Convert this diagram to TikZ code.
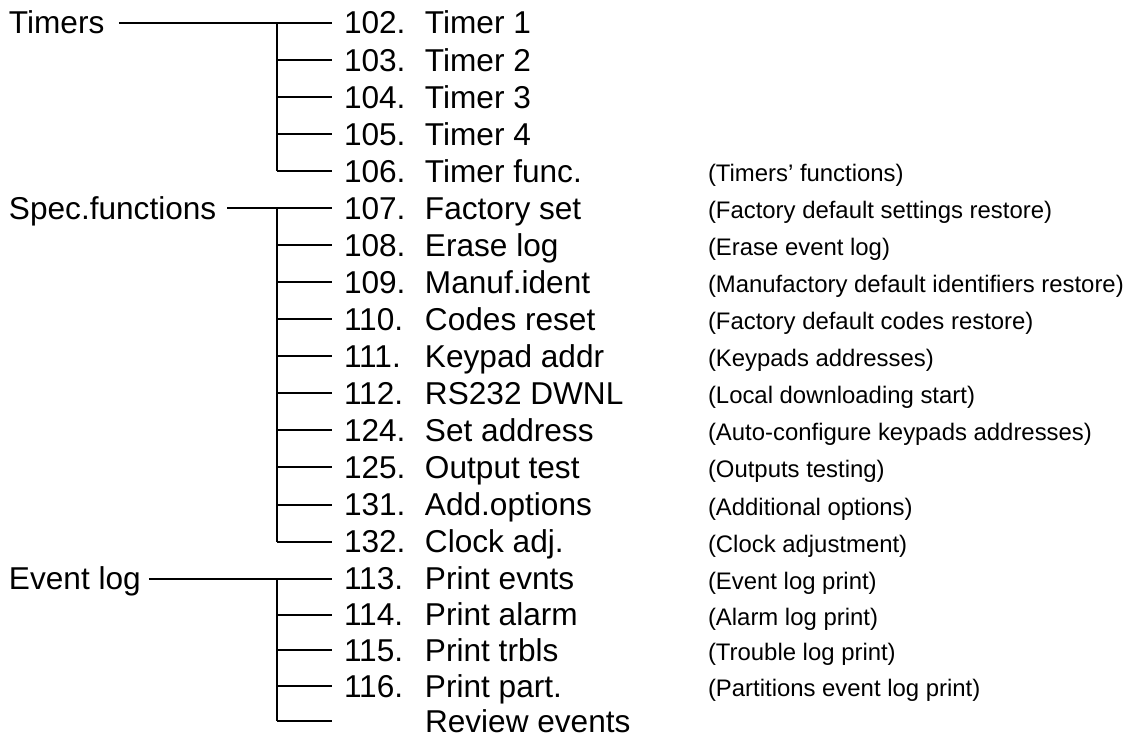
\documentclass[tikz,border=0pt]{standalone}
\usepackage{fontspec}
\setmainfont{Liberation Sans}
\newcommand{\numbox}[1]{\makebox[81pt][l]{#1}}
\begin{document}
\begin{tikzpicture}[x=1pt, y=-1pt, line width=2pt,
  grp/.style={anchor=west, inner sep=0pt, text height=22.6pt, text depth=0pt, font=\fontsize{31.6pt}{36pt}\selectfont},
  itm/.style={anchor=west, inner xsep=11.3pt, inner ysep=0pt, text height=22.6pt, text depth=0pt, font=\fontsize{31.6pt}{36pt}\selectfont},
  note/.style={anchor=west, inner sep=0pt, text height=21pt, text depth=0pt, font=\fontsize{23.9pt}{28pt}\selectfont}]
\useasboundingbox (0,0) rectangle (1126,738);
% Timers
\node[grp] (grp0) at (8,22.7){Timers};
\node[itm] (itm102) at (331.7,22.7){\numbox{102.}Timer 1};
\node[itm] (itm103) at (331.7,59.8){\numbox{103.}Timer 2};
\node[itm] (itm104) at (331.7,96.8){\numbox{104.}Timer 3};
\node[itm] (itm105) at (331.7,133.9){\numbox{105.}Timer 4};
\node[itm] (itm106) at (331.7,170.9){\numbox{106.}Timer func.};
\node[note] (nt106) at (707,170.9){(Timers’ functions)};
\coordinate (bar0) at (276.7,22.7);
\draw ([xshift=13.5pt]grp0.east) -- (itm102.west);
\draw (bar0) -- (bar0 |- itm106.west);
\draw (bar0 |- itm103.west) -- (itm103.west);
\draw (bar0 |- itm104.west) -- (itm104.west);
\draw (bar0 |- itm105.west) -- (itm105.west);
\draw (bar0 |- itm106.west) -- (itm106.west);
% Spec.functions
\node[grp] (grp1) at (8,208.0){Spec.functions};
\node[itm] (itm107) at (331.7,208.0){\numbox{107.}Factory set};
\node[itm] (itm108) at (331.7,245.1){\numbox{108.}Erase log};
\node[itm] (itm109) at (331.7,282.1){\numbox{109.}Manuf.ident};
\node[itm] (itm110) at (331.7,319.2){\numbox{110.}Codes reset};
\node[itm] (itm111) at (331.7,356.2){\numbox{111.}Keypad addr};
\node[itm] (itm112) at (331.7,393.3){\numbox{112.}RS232 DWNL};
\node[itm] (itm124) at (331.7,430.4){\numbox{124.}Set address};
\node[itm] (itm125) at (331.7,467.4){\numbox{125.}Output test};
\node[itm] (itm131) at (331.7,504.5){\numbox{131.}Add.options};
\node[itm] (itm132) at (331.7,541.5){\numbox{132.}Clock adj.};
\node[note] (nt107) at (707,208.0){(Factory default settings restore)};
\node[note] (nt108) at (707,245.1){(Erase event log)};
\node[note] (nt109) at (707,282.1){(Manufactory default identifiers restore)};
\node[note] (nt110) at (707,319.2){(Factory default codes restore)};
\node[note] (nt111) at (707,356.2){(Keypads addresses)};
\node[note] (nt112) at (707,393.3){(Local downloading start)};
\node[note] (nt124) at (707,430.4){(Auto-configure keypads addresses)};
\node[note] (nt125) at (707,467.4){(Outputs testing)};
\node[note] (nt131) at (707,504.5){(Additional options)};
\node[note] (nt132) at (707,541.5){(Clock adjustment)};
\coordinate (bar1) at (276.7,208.0);
\draw ([xshift=10pt]grp1.east) -- (itm107.west);
\draw (bar1) -- (bar1 |- itm132.west);
\draw (bar1 |- itm108.west) -- (itm108.west);
\draw (bar1 |- itm109.west) -- (itm109.west);
\draw (bar1 |- itm110.west) -- (itm110.west);
\draw (bar1 |- itm111.west) -- (itm111.west);
\draw (bar1 |- itm112.west) -- (itm112.west);
\draw (bar1 |- itm124.west) -- (itm124.west);
\draw (bar1 |- itm125.west) -- (itm125.west);
\draw (bar1 |- itm131.west) -- (itm131.west);
\draw (bar1 |- itm132.west) -- (itm132.west);
% Event log
\node[grp] (grp2) at (8,578.6){Event log};
\node[itm] (itm113) at (331.7,578.6){\numbox{113.}Print evnts};
\node[itm] (itm114) at (331.7,614.5){\numbox{114.}Print alarm};
\node[itm] (itm115) at (331.7,650.3){\numbox{115.}Print trbls};
\node[itm] (itm116) at (331.7,686.2){\numbox{116.}Print part.};
\node[itm] (itmrev) at (331.7,721.0){\numbox{}Review events};
\node[note] (nt113) at (707,578.6){(Event log print)};
\node[note] (nt114) at (707,614.5){(Alarm log print)};
\node[note] (nt115) at (707,650.3){(Trouble log print)};
\node[note] (nt116) at (707,686.2){(Partitions event log print)};
\coordinate (bar2) at (276.7,578.6);
\draw ([xshift=7pt]grp2.east) -- (itm113.west);
\draw (bar2) -- (bar2 |- itmrev.west);
\draw (bar2 |- itm114.west) -- (itm114.west);
\draw (bar2 |- itm115.west) -- (itm115.west);
\draw (bar2 |- itm116.west) -- (itm116.west);
\draw (bar2 |- itmrev.west) -- (itmrev.west);
\end{tikzpicture}
\end{document}
